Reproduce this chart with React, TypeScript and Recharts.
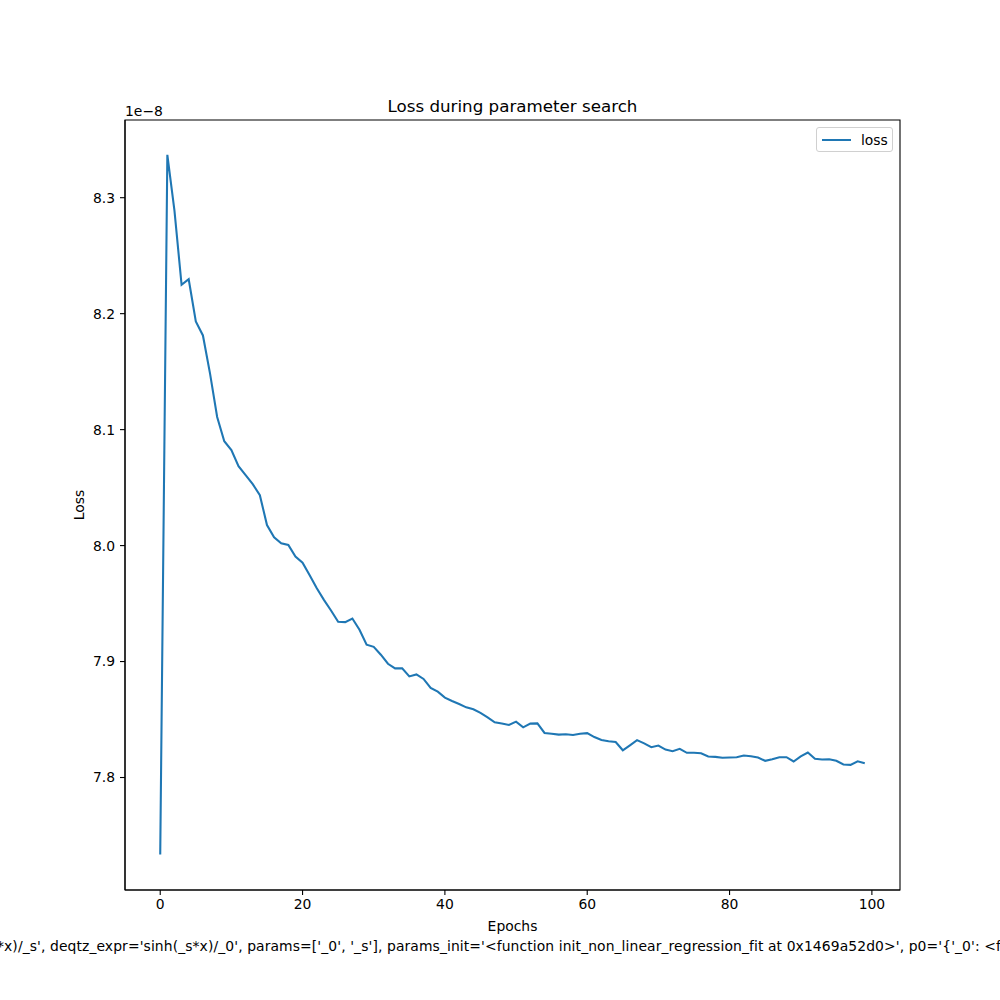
import React from 'react';
import { LineChart, Line, XAxis, YAxis, Label, ReferenceArea } from 'recharts';

const epochs: number[] = Array.from({ length: 100 }, (_, i) => i);
const lossValues: number[] = [
  7.7337, 8.337, 8.2888, 8.2249, 8.2297, 8.1933, 8.1812, 8.1483, 8.1109, 8.09,
  8.0823, 8.0685, 8.0608, 8.053, 8.0435, 8.0177, 8.0071, 8.002, 8.0005, 7.9905,
  7.9853, 7.9745, 7.9632, 7.9532, 7.944, 7.9343, 7.934, 7.9371, 7.9274, 7.9145,
  7.9127, 7.9059, 7.8981, 7.8941, 7.8941, 7.8872, 7.8889, 7.885, 7.8772, 7.874,
  7.8689, 7.866, 7.8634, 7.8605, 7.8588, 7.8557, 7.8519, 7.8476, 7.8465, 7.8453,
  7.8482, 7.8433, 7.8465, 7.8467, 7.8384, 7.8378, 7.837, 7.8373, 7.8367, 7.8378,
  7.8383, 7.8349, 7.8323, 7.8312, 7.8306, 7.8235, 7.8278, 7.8322, 7.8294, 7.8261,
  7.8276, 7.8241, 7.8227, 7.8247, 7.8213, 7.8213, 7.8209, 7.8181, 7.8178, 7.817,
  7.8172, 7.8175, 7.819, 7.8183, 7.8172, 7.8144, 7.8158, 7.8175, 7.8175, 7.8138,
  7.8183, 7.8215, 7.8161, 7.8155, 7.8158, 7.8144, 7.8112, 7.8109, 7.814, 7.8123,
];
const xTicks: number[] = [0, 20, 40, 60, 80, 100];
const yTicks: number[] = [7.8, 7.9, 8.0, 8.1, 8.2, 8.3];
const xDomain: [number, number] = [-4.95, 103.95];
const yDomain: [number, number] = [7.703, 8.367];

const data = epochs.map((e, i) => ({ epoch: e, loss: lossValues[i] }));

const FONT = '"DejaVu Sans", sans-serif';
const footerText =
  "*x)/_s', deqtz_expr='sinh(_s*x)/_0', params=['_0', '_s'], params_init='<function init_non_linear_regression_fit at 0x1469a52d0>', p0='{'_0': <f";

export default function App() {
  const tickStyle = { fontFamily: FONT, fontSize: 13.9, fill: '#000' };
  return (
    <div style={{ position: 'absolute', left: 0, top: 0, width: 1000, height: 1000, background: 'white', overflow: 'hidden' }}>
      <LineChart width={1000} height={1000} data={data} margin={{ top: 120, right: 100, bottom: 0, left: 0 }}>
        <XAxis
          dataKey="epoch"
          type="number"
          domain={xDomain}
          ticks={xTicks}
          allowDataOverflow
          height={110}
          tickSize={5}
          tickMargin={4}
          tick={tickStyle}
          stroke="#000"
          axisLine={{ stroke: '#000', strokeWidth: 1.1 }}
          tickLine={{ stroke: '#000', strokeWidth: 1.1 }}
        >
          <Label value="Epochs" position="insideTop" offset={31} style={{ fontFamily: FONT, fontSize: 13.9, fill: '#000' }} />
        </XAxis>
        <YAxis
          type="number"
          domain={yDomain}
          ticks={yTicks}
          allowDataOverflow
          width={125}
          tickSize={5}
          tickMargin={5}
          tick={tickStyle}
          tickFormatter={(v: number) => v.toFixed(1)}
          stroke="#000"
          axisLine={{ stroke: '#000', strokeWidth: 1.1 }}
          tickLine={{ stroke: '#000', strokeWidth: 1.1 }}
        >
          <Label
            value="Loss"
            angle={-90}
            position="insideLeft"
            offset={79}
            style={{ fontFamily: FONT, fontSize: 13.9, fill: '#000', textAnchor: 'middle' }}
          />
        </YAxis>
        <ReferenceArea
          x1={xDomain[0]}
          x2={xDomain[1]}
          y1={yDomain[0]}
          y2={yDomain[1]}
          fill="none"
          fillOpacity={0}
          stroke="#000"
          strokeWidth={1.1}
          ifOverflow="visible"
        />
        <Line
          type="linear"
          dataKey="loss"
          stroke="#1f77b4"
          strokeWidth={2.08}
          dot={false}
          activeDot={false}
          isAnimationActive={false}
        />
      </LineChart>
      <div
        style={{
          position: 'absolute',
          left: 816,
          top: 127,
          border: '1px solid #d0d0d0',
          borderRadius: 3,
          background: 'white',
          width: 77,
          height: 25,
          boxSizing: 'border-box',
          display: 'flex',
          alignItems: 'center',
          fontFamily: FONT,
          fontSize: 13.9,
          color: '#000',
        }}
      >
        <div style={{ width: 29, height: 2, background: '#1f77b4', marginLeft: 5, marginRight: 10 }} />
        <span>loss</span>
      </div>
      <div
        style={{
          position: 'absolute',
          left: 125,
          width: 775,
          top: 96,
          textAlign: 'center',
          fontFamily: FONT,
          fontSize: 16.7,
          lineHeight: '20px',
          color: '#000',
        }}
      >
        Loss during parameter search
      </div>
      <div style={{ position: 'absolute', left: 125, top: 103, fontFamily: FONT, fontSize: 13.9, lineHeight: '16px', color: '#000' }}>
        1e−8
      </div>
      <div
        style={{
          position: 'absolute',
          left: -3,
          top: 937,
          whiteSpace: 'nowrap',
          fontFamily: FONT,
          fontSize: 13.9,
          lineHeight: '18px',
          letterSpacing: '0.1px',
          color: '#000',
        }}
      >
        {footerText}
      </div>
    </div>
  );
}
